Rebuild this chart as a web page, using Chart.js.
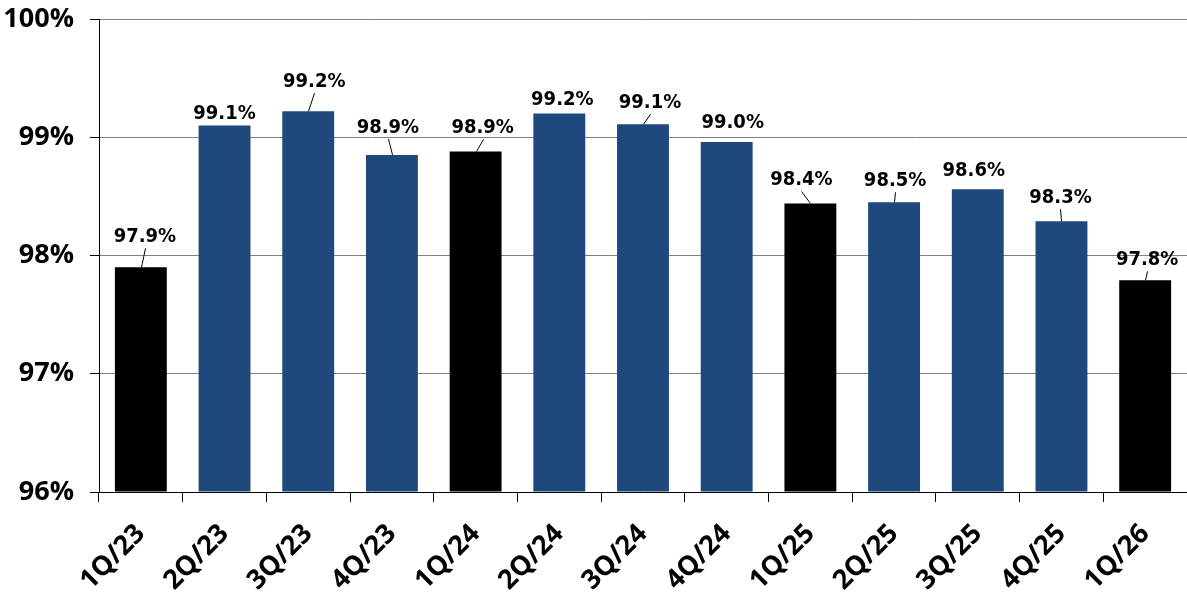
<!DOCTYPE html>
<html>
<head>
<meta charset="utf-8">
<script src="https://cdn.jsdelivr.net/npm/chart.js@4.4.1/dist/chart.umd.min.js"></script>
<style>
html,body{margin:0;padding:0;background:#fff;}
#wrap{width:1187px;height:610px;position:relative;}
</style>
</head>
<body>
<div id="wrap"><canvas id="c" width="1187" height="610"></canvas></div>
<script>
// ---- data ----
const categories = ['1Q/23','2Q/23','3Q/23','4Q/23','1Q/24','2Q/24','3Q/24','4Q/24','1Q/25','2Q/25','3Q/25','4Q/25','1Q/26'];
const values = [97.90, 99.10, 99.22, 98.85, 98.88, 99.20, 99.11, 98.96, 98.44, 98.45, 98.56, 98.29, 97.79];
const valueLabels = ['97.9%','99.1%','99.2%','98.9%','98.9%','99.2%','99.1%','99.0%','98.4%','98.5%','98.6%','98.3%','97.8%'];
const firstQuarter = [true,false,false,false,true,false,false,false,true,false,false,false,true];
const yTicks = [96, 97, 98, 99, 100];

// ---- styles / placement ----
const BLUE = '#1F497D';
const BLACK = '#000000';
const labelPlacement = [
  {dx: 4, gap: 25, leader: true},
  {dx: 0, gap: 6, leader: false},
  {dx: 6, gap: 24, leader: true},
  {dx: -4, gap: 22, leader: true},
  {dx: 7, gap: 18, leader: true},
  {dx: 3, gap: 9, leader: false},
  {dx: 7, gap: 16, leader: true},
  {dx: 6, gap: 14, leader: false},
  {dx: -9, gap: 18, leader: true},
  {dx: 1, gap: 16, leader: true},
  {dx: -4, gap: 13, leader: false},
  {dx: -1, gap: 18, leader: true},
  {dx: 2, gap: 15, leader: true}
];

const dataLabelPlugin = {
  id: 'dataLabels',
  afterDatasetsDraw(chart) {
    const ctx = chart.ctx;
    const meta = chart.getDatasetMeta(0);
    ctx.save();
    ctx.font = 'bold 20px "DejaVu Sans Condensed", "DejaVu Sans"';
    ctx.fillStyle = '#000';
    ctx.strokeStyle = '#000';
    ctx.lineWidth = 1;
    ctx.textAlign = 'center';
    ctx.textBaseline = 'alphabetic';
    meta.data.forEach((bar, i) => {
      const p = labelPlacement[i];
      const lx = bar.x + p.dx;
      const ly = bar.y - p.gap;
      ctx.fillText(valueLabels[i], lx, ly);
      if (p.leader) {
        ctx.beginPath();
        ctx.moveTo(Math.round(lx) + 0.5, ly + 6);
        ctx.lineTo(Math.round(bar.x) + 0.5, bar.y);
        ctx.stroke();
      }
    });
    ctx.restore();
  }
};

new Chart(document.getElementById('c'), {
  type: 'bar',
  data: {
    labels: categories,
    datasets: [{
      data: values,
      backgroundColor: firstQuarter.map(q => q ? BLACK : BLUE),
      borderWidth: 0,
      barPercentage: 0.62,
      categoryPercentage: 1.0,
      base: 96
    }]
  },
  options: {
    responsive: false,
    animation: false,
    devicePixelRatio: 1,
    layout: {padding: {top: 19, right: 0, left: 5, bottom: 0}},
    plugins: {legend: {display: false}, tooltip: {enabled: false}},
    scales: {
      x: {
        offset: true,
        grid: {
          display: true,
          offset: true,
          drawOnChartArea: false,
          drawTicks: true,
          tickLength: 10,
          tickColor: '#000',
          tickWidth: 1
        },
        border: {display: true, color: '#000', width: 1},
        ticks: {
          minRotation: 45,
          maxRotation: 45,
          padding: 16,
          color: '#000',
          font: {family: '"Open Sans"', size: 27, weight: 'bold'}
        },
        afterFit(scale) { scale.height = 118; scale.paddingRight = 0; scale.paddingLeft = 0; }
      },
      y: {
        min: 96,
        max: 100,
        afterBuildTicks(scale) { scale.ticks = yTicks.map(v => ({value: v})); },
        grid: {
          color: '#808080',
          lineWidth: 1,
          drawTicks: true,
          tickLength: 9,
          tickColor: '#000'
        },
        border: {display: true, color: '#000', width: 1},
        ticks: {
          padding: 16,
          color: '#000',
          font: {family: '"Open Sans"', size: 27, weight: 'bold'},
          callback: v => v + '%'
        },
        afterFit(scale) { scale.width = 94; scale.paddingTop = 0; scale.paddingBottom = 0; }
      }
    }
  },
  plugins: [dataLabelPlugin]
});
</script>
</body>
</html>
